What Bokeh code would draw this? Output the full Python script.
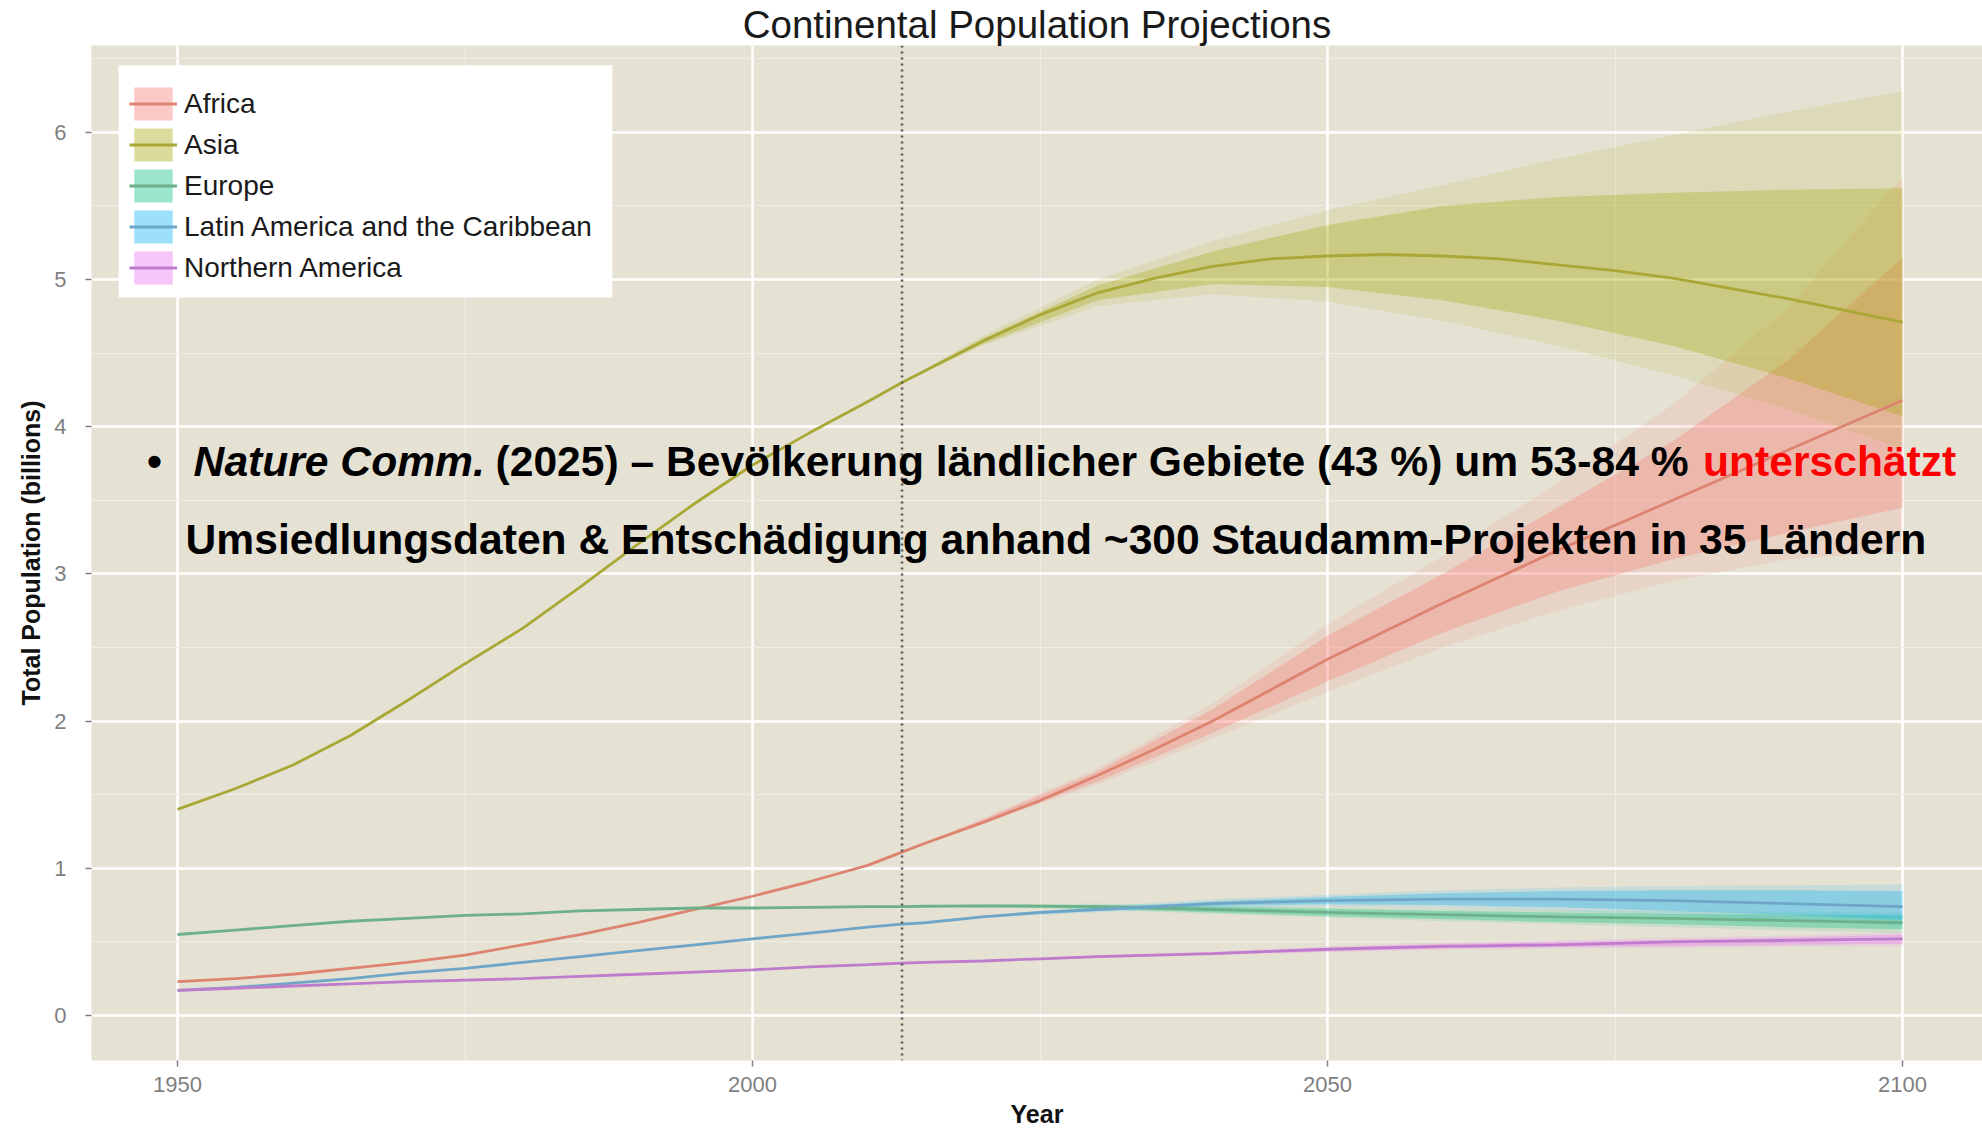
from bokeh.plotting import figure
from bokeh.models import (Range1d, FixedTicker, Span, Label, Legend, LegendItem, ColumnDataSource,
                          BoxAnnotation)
from bokeh.embed import file_html
from bokeh.resources import INLINE

# ---------------- data (billions) ----------------
years = [1950, 1955, 1960, 1965, 1970, 1975, 1980, 1985, 1990, 1995, 2000, 2005, 2010, 2013, 2015,
         2020, 2025, 2030, 2035, 2040, 2045, 2050, 2055, 2060, 2065, 2070, 2075, 2080, 2085, 2090, 2095, 2100]
proj_years = [2013, 2020, 2030, 2040, 2050, 2060, 2070, 2080, 2090, 2100]
projection_start = 2013

continents = ["Africa", "Asia", "Europe", "Latin America and the Caribbean", "Northern America"]

africa_median = [0.23, 0.25, 0.28, 0.32, 0.36, 0.41, 0.48, 0.55, 0.63, 0.72, 0.81, 0.91, 1.02, 1.11, 1.17,
                 1.31, 1.46, 1.63, 1.81, 2.00, 2.21, 2.42, 2.61, 2.80, 2.98, 3.16, 3.33, 3.50, 3.67, 3.84, 4.01, 4.18]
asia_median = [1.40, 1.54, 1.70, 1.90, 2.14, 2.39, 2.63, 2.91, 3.20, 3.48, 3.74, 3.96, 4.17, 4.30, 4.38,
               4.58, 4.76, 4.91, 5.01, 5.09, 5.14, 5.16, 5.17, 5.16, 5.14, 5.10, 5.06, 5.01, 4.94, 4.87, 4.79, 4.71]
europe_median = [0.55, 0.58, 0.61, 0.64, 0.66, 0.68, 0.69, 0.71, 0.72, 0.73, 0.73, 0.735, 0.74, 0.74, 0.742,
                 0.745, 0.743, 0.74, 0.73, 0.72, 0.71, 0.70, 0.692, 0.685, 0.677, 0.67, 0.665, 0.66, 0.652, 0.645, 0.637, 0.63]
latam_median = [0.17, 0.19, 0.22, 0.25, 0.29, 0.32, 0.36, 0.40, 0.44, 0.48, 0.52, 0.56, 0.60, 0.62, 0.63,
                0.67, 0.70, 0.72, 0.74, 0.76, 0.77, 0.78, 0.785, 0.79, 0.79, 0.79, 0.785, 0.78, 0.77, 0.76, 0.75, 0.74]
namerica_median = [0.17, 0.185, 0.20, 0.215, 0.23, 0.24, 0.25, 0.265, 0.28, 0.295, 0.31, 0.33, 0.345, 0.355, 0.36,
                   0.37, 0.385, 0.40, 0.41, 0.42, 0.435, 0.45, 0.46, 0.47, 0.475, 0.48, 0.49, 0.50, 0.505, 0.51, 0.515, 0.52]

africa_lo95 = [1.11, 1.30, 1.57, 1.88, 2.20, 2.50, 2.75, 2.95, 3.10, 3.15]
africa_lo80 = [1.11, 1.31, 1.59, 1.92, 2.27, 2.60, 2.88, 3.10, 3.28, 3.45]
africa_hi80 = [1.11, 1.33, 1.66, 2.08, 2.58, 3.00, 3.45, 3.90, 4.45, 5.15]
africa_hi95 = [1.11, 1.34, 1.68, 2.12, 2.66, 3.12, 3.62, 4.15, 4.80, 5.70]

asia_lo95 = [4.30, 4.55, 4.82, 4.90, 4.85, 4.72, 4.55, 4.35, 4.12, 3.85]
asia_lo80 = [4.30, 4.56, 4.86, 4.97, 4.95, 4.86, 4.72, 4.55, 4.33, 4.07]
asia_hi80 = [4.30, 4.60, 4.96, 5.19, 5.37, 5.50, 5.56, 5.59, 5.61, 5.62]
asia_hi95 = [4.30, 4.62, 5.00, 5.26, 5.47, 5.64, 5.82, 5.98, 6.14, 6.28]

europe_lo95 = [0.74, 0.735, 0.72, 0.69, 0.665, 0.64, 0.62, 0.60, 0.58, 0.56]
europe_lo80 = [0.74, 0.74, 0.725, 0.70, 0.675, 0.655, 0.635, 0.62, 0.60, 0.585]
europe_hi80 = [0.74, 0.75, 0.75, 0.74, 0.725, 0.71, 0.70, 0.69, 0.685, 0.68]
europe_hi95 = [0.74, 0.755, 0.76, 0.75, 0.735, 0.725, 0.715, 0.71, 0.705, 0.70]

latam_lo95 = [0.62, 0.665, 0.70, 0.73, 0.74, 0.73, 0.71, 0.68, 0.65, 0.61]
latam_lo80 = [0.62, 0.668, 0.71, 0.745, 0.755, 0.75, 0.735, 0.71, 0.685, 0.65]
latam_hi80 = [0.62, 0.675, 0.73, 0.775, 0.805, 0.83, 0.845, 0.85, 0.85, 0.845]
latam_hi95 = [0.62, 0.678, 0.74, 0.79, 0.82, 0.85, 0.87, 0.88, 0.885, 0.89]

namerica_lo95 = [0.355, 0.368, 0.39, 0.41, 0.43, 0.445, 0.455, 0.46, 0.465, 0.47]
namerica_lo80 = [0.355, 0.37, 0.395, 0.415, 0.435, 0.455, 0.465, 0.47, 0.48, 0.485]
namerica_hi80 = [0.355, 0.372, 0.405, 0.43, 0.46, 0.485, 0.50, 0.515, 0.53, 0.55]
namerica_hi95 = [0.355, 0.374, 0.41, 0.435, 0.47, 0.495, 0.51, 0.53, 0.545, 0.565]

x_ticks = [1950, 2000, 2050, 2100]
x_minor = [1975, 2025, 2075]
y_ticks = [0, 1, 2, 3, 4, 5, 6]
y_minor = [0.5, 1.5, 2.5, 3.5, 4.5, 5.5, 6.5]

fill_colors = ["#F8766D", "#A3A500", "#00BF7D", "#00B0F6", "#E76BF3"]
line_colors = ["#dd8370", "#a9a735", "#6eb08a", "#6fa6c8", "#bf7ccc"]

medians = [africa_median, asia_median, europe_median, latam_median, namerica_median]
bands = [
    (africa_lo95, africa_lo80, africa_hi80, africa_hi95),
    (asia_lo95, asia_lo80, asia_hi80, asia_hi95),
    (europe_lo95, europe_lo80, europe_hi80, europe_hi95),
    (latam_lo95, latam_lo80, latam_hi80, latam_hi95),
    (namerica_lo95, namerica_lo80, namerica_hi80, namerica_hi95),
]

# ---------------- figure ----------------
FONT = "Liberation Sans"
p = figure(width=1982, height=1130, output_backend="svg", toolbar_location=None,
           x_range=Range1d(1942.52, 2106.95), y_range=Range1d(-0.306, 6.59),
           min_border_left=91, min_border_right=0, min_border_top=42, min_border_bottom=70)
p.background_fill_color = "#E5E2D4"
p.border_fill_color = "white"
p.outline_line_color = None

p.title.text = "Continental Population Projections"
p.title.align = "center"
p.title.text_font = FONT
p.title.text_font_size = "38.5px"
p.title.text_line_height = 0.95
p.title.text_font_style = "normal"
p.title.text_color = "#1a1a1a"
p.title.standoff = 0
p.title.offset = 0

p.xaxis.ticker = FixedTicker(ticks=x_ticks, minor_ticks=x_minor)
p.yaxis.ticker = FixedTicker(ticks=y_ticks, minor_ticks=y_minor)
for ax in (p.xaxis, p.yaxis):
    ax.axis_line_color = None
    ax.major_tick_line_color = "#7f7f7f"
    ax.major_tick_line_width = 1.5
    ax.major_tick_out = 6
    ax.major_tick_in = 0
    ax.minor_tick_line_color = None
    ax.major_label_text_font = FONT
    ax.major_label_text_font_size = "22px"
    ax.major_label_text_color = "#7f7f7f"
    ax.axis_label_text_font = FONT
    ax.axis_label_text_font_size = "25px"
    ax.axis_label_text_font_style = "bold"
    ax.axis_label_text_color = "#111111"
p.xaxis.axis_label = "Year"
p.yaxis.axis_label = "Total Population (billions)"
p.xaxis.major_label_standoff = 10
p.xaxis.axis_label_standoff = 5
p.yaxis.major_label_standoff = 19
p.yaxis.axis_label_standoff = 6

for g in (p.xgrid, p.ygrid):
    g.grid_line_color = "white"
    g.grid_line_width = 2.5
    g.minor_grid_line_color = "#F1EEE5"
    g.minor_grid_line_width = 1.2

outer_r, inner_r = [], []
for name, fc, med, (lo95, lo80, hi80, hi95) in zip(continents, fill_colors, medians, bands):
    src = ColumnDataSource(dict(x=proj_years, lo95=lo95, lo80=lo80, hi80=hi80, hi95=hi95))
    outer_r.append(p.varea(x="x", y1="lo95", y2="hi95", source=src, fill_color=fc, fill_alpha=0.12))
    inner_r.append(p.varea(x="x", y1="lo80", y2="hi80", source=src, fill_color=fc, fill_alpha=0.30))

lines = []
for name, lc, med in zip(continents, line_colors, medians):
    lines.append(p.line(years, med, line_color=lc, line_width=2.8))

# white legend panel (layout box, in data units of the frame)
p.add_layout(BoxAnnotation(left=1944.87, right=1987.8, top=6.456, bottom=4.878,
                           fill_color="white", fill_alpha=1.0, line_color=None))

legend = Legend(items=[LegendItem(label=n, renderers=[o, i, l])
                       for n, o, i, l in zip(continents, outer_r, inner_r, lines)],
                location="top_left")
legend.margin = 38
legend.padding = 0
legend.spacing = 0
legend.glyph_width = 48
legend.glyph_height = 41
legend.label_height = 41
legend.label_standoff = 7
legend.label_text_font = FONT
legend.label_text_font_size = "28px"
legend.label_text_color = "#1a1a1a"
legend.background_fill_alpha = 0.0
legend.border_line_color = None
p.add_layout(legend, "center")

p.add_layout(Span(location=projection_start, dimension="height", line_color="#555555",
                  line_dash="2 4", line_width=2.5))

# ---------------- overlay text ----------------
OV = "Liberation Sans"
ov_size = "42.6px"
common = dict(text_font=OV, text_font_size=ov_size, text_baseline="alphabetic")
line1_y = 3.77
line2_y = 3.24
p.add_layout(Label(x=1948.0, y=line1_y, text="•", text_font_style="bold", text_color="black",
                   text_align="center", **common))
p.add_layout(Label(x=1951.4, y=line1_y, text="Nature Comm.", text_font_style="bold italic",
                   text_color="black", **common))
p.add_layout(Label(x=1977.65, y=line1_y, text="(2025) – Bevölkerung ländlicher Gebiete (43 %) um 53-84 %",
                   text_font_style="bold", text_color="black", **common))
p.add_layout(Label(x=2082.65, y=line1_y, text="unterschätzt", text_font_style="bold",
                   text_color="#ff0000", **common))
p.add_layout(Label(x=1950.7, y=line2_y,
                   text="Umsiedlungsdaten & Entschädigung anhand ~300 Staudamm-Projekten in 35 Ländern",
                   text_font_style="bold", text_color="black", **common))

open("out.html", "w").write(file_html(p, INLINE))
